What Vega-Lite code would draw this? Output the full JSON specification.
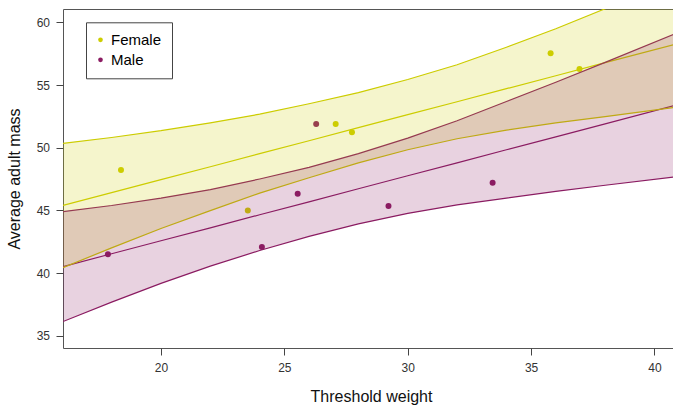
{
  "$schema": "https://vega.github.io/schema/vega-lite/v6.json",
  "autosize": {"type": "none"},
  "padding": {"left": 63, "top": 9, "right": 0, "bottom": 57},
  "width": 610,
  "height": 339,
  "datasets": {
    "pts": [
      {"sex": "Female", "x": 18.38, "y": 48.23},
      {"sex": "Female", "x": 23.52, "y": 45.0},
      {"sex": "Female", "x": 27.08, "y": 51.9},
      {"sex": "Female", "x": 27.74, "y": 51.23},
      {"sex": "Female", "x": 35.79, "y": 57.53},
      {"sex": "Female", "x": 36.96, "y": 56.28},
      {"sex": "Male", "x": 17.85, "y": 41.51},
      {"sex": "Male", "x": 24.09, "y": 42.1},
      {"sex": "Male", "x": 25.54, "y": 46.34},
      {"sex": "Male", "x": 26.29, "y": 51.9},
      {"sex": "Male", "x": 29.22, "y": 45.36},
      {"sex": "Male", "x": 33.44, "y": 47.22}
    ],
    "bands": [
      {"sex": "Female", "x": 16.03, "fit": 45.40, "lo": 40.45, "hi": 50.35},
      {"sex": "Female", "x": 18, "fit": 46.42, "lo": 42.02, "hi": 50.82},
      {"sex": "Female", "x": 20, "fit": 47.46, "lo": 43.56, "hi": 51.36},
      {"sex": "Female", "x": 22, "fit": 48.49, "lo": 44.99, "hi": 51.99},
      {"sex": "Female", "x": 24, "fit": 49.53, "lo": 46.38, "hi": 52.68},
      {"sex": "Female", "x": 26, "fit": 50.56, "lo": 47.61, "hi": 53.51},
      {"sex": "Female", "x": 28, "fit": 51.60, "lo": 48.80, "hi": 54.40},
      {"sex": "Female", "x": 30, "fit": 52.64, "lo": 49.84, "hi": 55.44},
      {"sex": "Female", "x": 32, "fit": 53.67, "lo": 50.72, "hi": 56.62},
      {"sex": "Female", "x": 34, "fit": 54.71, "lo": 51.41, "hi": 58.01},
      {"sex": "Female", "x": 36, "fit": 55.74, "lo": 51.99, "hi": 59.49},
      {"sex": "Female", "x": 38, "fit": 56.78, "lo": 52.48, "hi": 61.08},
      {"sex": "Female", "x": 40.76, "fit": 58.21, "lo": 53.20, "hi": 63.22},
      {"sex": "Male", "x": 16.03, "fit": 40.53, "lo": 36.15, "hi": 44.91},
      {"sex": "Male", "x": 18, "fit": 41.55, "lo": 37.70, "hi": 45.40},
      {"sex": "Male", "x": 20, "fit": 42.59, "lo": 39.19, "hi": 45.99},
      {"sex": "Male", "x": 22, "fit": 43.62, "lo": 40.57, "hi": 46.67},
      {"sex": "Male", "x": 24, "fit": 44.66, "lo": 41.81, "hi": 47.51},
      {"sex": "Male", "x": 26, "fit": 45.69, "lo": 42.94, "hi": 48.44},
      {"sex": "Male", "x": 28, "fit": 46.73, "lo": 43.93, "hi": 49.53},
      {"sex": "Male", "x": 30, "fit": 47.77, "lo": 44.77, "hi": 50.77},
      {"sex": "Male", "x": 32, "fit": 48.80, "lo": 45.45, "hi": 52.15},
      {"sex": "Male", "x": 34, "fit": 49.84, "lo": 45.99, "hi": 53.69},
      {"sex": "Male", "x": 36, "fit": 50.87, "lo": 46.52, "hi": 55.22},
      {"sex": "Male", "x": 38, "fit": 51.91, "lo": 47.01, "hi": 56.81},
      {"sex": "Male", "x": 40.76, "fit": 53.34, "lo": 47.67, "hi": 59.03}
    ]
  },
  "layer": [
    {
      "data": {"name": "pts"},
      "mark": {"type": "point", "filled": true, "size": 36, "opacity": 1, "clip": true},
      "encoding": {
        "x": {"field": "x", "type": "quantitative"},
        "y": {"field": "y", "type": "quantitative"},
        "color": {
          "field": "sex", "type": "nominal",
          "scale": {"domain": ["Female", "Male"], "range": ["#CDCD00", "#8B1C62"]},
          "legend": {
            "title": null, "orient": "none", "legendX": 23, "legendY": 13.3,
            "strokeColor": "#444", "fillColor": "#ffffff", "padding": 10,
            "labelFontSize": 15, "labelColor": "#000", "labelOffset": 3,
            "symbolSize": 22, "symbolType": "circle", "rowPadding": 4,
            "symbolStrokeWidth": 0, "symbolOffset": -3
          }
        }
      }
    },
    {
      "data": {"name": "bands"},
      "mark": {"type": "line", "strokeWidth": 1.2, "clip": true},
      "encoding": {
        "x": {"field": "x", "type": "quantitative"},
        "y": {"field": "fit", "type": "quantitative"},
        "stroke": {"field": "sex", "type": "nominal", "scale": {"domain": ["Female", "Male"], "range": ["#CDCD00", "#8B1C62"]}, "legend": null}
      }
    },
    {
      "data": {"name": "bands"},
      "mark": {"type": "line", "strokeWidth": 1.2, "clip": true},
      "encoding": {
        "x": {"field": "x", "type": "quantitative"},
        "y": {"field": "lo", "type": "quantitative"},
        "stroke": {"field": "sex", "type": "nominal", "legend": null}
      }
    },
    {
      "data": {"name": "bands"},
      "mark": {"type": "line", "strokeWidth": 1.2, "clip": true},
      "encoding": {
        "x": {"field": "x", "type": "quantitative"},
        "y": {"field": "hi", "type": "quantitative"},
        "stroke": {"field": "sex", "type": "nominal", "legend": null}
      }
    },
    {
      "data": {"name": "bands"},
      "mark": {"type": "area", "fillOpacity": 0.2, "clip": true},
      "encoding": {
        "x": {"field": "x", "type": "quantitative",
          "scale": {"domain": [16.03, 40.75], "nice": false, "zero": false},
          "axis": {"title": "Threshold weight", "values": [20, 25, 30, 35, 40], "labelPadding": 7, "titleY": 53.5, "titleX": 308, "titleBaseline": "alphabetic"}
        },
        "y": {"field": "lo", "type": "quantitative",
          "scale": {"domain": [34.04, 61.06], "nice": false, "zero": false},
          "axis": {"title": "Average adult mass", "values": [35, 40, 45, 50, 55, 60], "labelPadding": 6.5, "titleX": -43.4, "titleBaseline": "alphabetic"}
        },
        "y2": {"field": "hi"},
        "fill": {"field": "sex", "type": "nominal", "scale": {"domain": ["Female", "Male"], "range": ["#CDCD00", "#8B1C62"]}, "legend": null},
        "order": {"field": "sex"}
      }
    }
  ],
  "config": {
    "font": "Liberation Sans",
    "view": {"stroke": "#555", "strokeWidth": 1},
    "axis": {
      "grid": false, "domain": false, "tickColor": "#444", "tickSize": 7, "tickWidth": 1,
      "labelFontSize": 12, "labelColor": "#333", "labelFont": "Liberation Sans",
      "titleFontSize": 16, "titleFontWeight": "normal", "titleColor": "#111", "titleFont": "Liberation Sans"
    },
    "legend": {"labelFont": "Liberation Sans"}
  }
}
